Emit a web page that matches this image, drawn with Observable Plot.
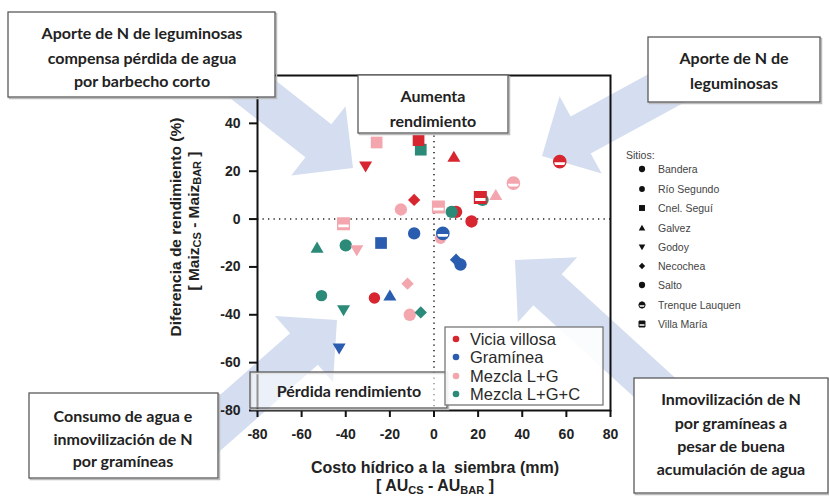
<!DOCTYPE html>
<html><head><meta charset="utf-8">
<script src="https://cdn.jsdelivr.net/npm/d3@7"></script>
<script src="https://cdn.jsdelivr.net/npm/@observablehq/plot@0.6"></script>
<style>body{margin:0;background:#fff} #chart{position:relative;width:829px;height:499px;overflow:hidden}</style>
</head><body><div id="chart"></div>
<script>
// ---- data ----
const treatments = ["Vicia villosa", "Gramínea", "Mezcla L+G", "Mezcla L+G+C"];
const treatmentColors = ["#d7262f", "#2a5db0", "#f3a6ad", "#2b8a78"];
const sites = ["Bandera", "Río Segundo", "Cnel. Seguí", "Galvez", "Godoy", "Necochea", "Salto", "Trenque Lauquen", "Villa María"];
const xTicks = [-80, -60, -40, -20, 0, 20, 40, 60, 80];
const yTicks = [-80, -60, -40, -20, 0, 20, 40];

const viciaSites = ["Cnel. Seguí", "Godoy", "Necochea", "Galvez", "Trenque Lauquen", "Villa María", "Bandera", "Salto", "Río Segundo"];
const viciaX = [-7, -31, -9, 9, 57, 21, 10, 17, -27];
const viciaY = [33, 22, 8, 26, 24, 9, 3, -1, -33];

const gramSites = ["Bandera", "Cnel. Seguí", "Trenque Lauquen", "Necochea", "Salto", "Galvez", "Godoy"];
const gramX = [-9, -24, 4, 10, 12, -20, -43];
const gramY = [-6, -10, -6, -17, -19, -32, -54];

const mezclaSites = ["Cnel. Seguí", "Salto", "Villa María", "Godoy", "Villa María", "Trenque Lauquen", "Galvez", "Necochea", "Bandera", "Río Segundo"];
const mezclaX = [-26, -15, -41, -35, 2, 36, 28, -12, -11, 3];
const mezclaY = [32, 4, -2, -13, 5, 15, 10, -27, -40, -8];

const mezclaCSites = ["Cnel. Seguí", "Bandera", "Galvez", "Salto", "Bandera", "Río Segundo", "Godoy", "Necochea"];
const mezclaCX = [-6, -40, -53, 8, 22, -51, -41, -6];
const mezclaCY = [29, -11, -12, 3, 8, -32, -38, -39];

const boxTexts = [
  ["Aporte de N de leguminosas", "compensa pérdida de agua", "por barbecho corto"],
  ["Aumenta", "rendimiento"],
  ["Aporte de N de", "leguminosas"],
  ["Pérdida rendimiento"],
  ["Consumo de agua e", "inmovilización de N", "por gramíneas"],
  ["Inmovilización de N", "por gramíneas a", "pesar de buena", "acumulación de agua"]
];

// ---- table ----
const rows = [];
function addSeries(t, s, xs, ys) { s.forEach((site, i) => rows.push({treatment: t, site, x: xs[i], y: ys[i]})); }
addSeries("Mezcla L+G+C", mezclaCSites, mezclaCX, mezclaCY);
addSeries("Mezcla L+G", mezclaSites, mezclaX, mezclaY);
addSeries("Gramínea", gramSites, gramX, gramY);
addSeries("Vicia villosa", viciaSites, viciaX, viciaY);

// ---- symbols ----
const R = s => Math.sqrt(s / Math.PI);
const symCircle = {draw(c, s) { const r = R(s) * 0.95; c.moveTo(r, 0); c.arc(0, 0, r, 0, 2 * Math.PI); c.closePath(); }};
const symSmallCircle = {draw(c, s) { const r = R(s) * 0.88; c.moveTo(r, 0); c.arc(0, 0, r, 0, 2 * Math.PI); c.closePath(); }};
const symSquare = {draw(c, s) { const h = R(s) * 0.9; c.moveTo(-h, -h); c.lineTo(h, -h); c.lineTo(h, h); c.lineTo(-h, h); c.closePath(); }};
const symTriUp = {draw(c, s) { const r = R(s); c.moveTo(0, -r * 0.95); c.lineTo(r * 1.0, r * 0.75); c.lineTo(-r * 1.0, r * 0.75); c.closePath(); }};
const symTriDown = {draw(c, s) { const r = R(s); c.moveTo(0, r * 0.95); c.lineTo(r * 1.0, -r * 0.75); c.lineTo(-r * 1.0, -r * 0.75); c.closePath(); }};
const symDiamond = {draw(c, s) { const r = R(s) * 0.95; c.moveTo(0, -r); c.lineTo(r, 0); c.lineTo(0, r); c.lineTo(-r, 0); c.closePath(); }};
const symCircleHalf = {draw(c, s) {
  const r = R(s) * 0.95; const a = Math.asin(0.1), b = Math.asin(0.55);
  c.moveTo(r * Math.cos(Math.PI - a), r * Math.sin(Math.PI - a)); c.arc(0, 0, r, Math.PI - a, 2 * Math.PI + a); c.closePath();
  c.moveTo(r * Math.cos(b), r * Math.sin(b)); c.arc(0, 0, r, b, Math.PI - b); c.closePath();
}};
const symSquareHalf = {draw(c, s) {
  const h = R(s) * 0.9;
  c.moveTo(-h, -h); c.lineTo(h, -h); c.lineTo(h, h * 0.1); c.lineTo(-h, h * 0.1); c.closePath();
  c.moveTo(-h, h * 0.6); c.lineTo(h, h * 0.6); c.lineTo(h, h); c.lineTo(-h, h); c.closePath();
}};
const siteSymbol = {
  "Bandera": symCircle, "Río Segundo": symSmallCircle, "Cnel. Seguí": symSquare, "Galvez": symTriUp,
  "Godoy": symTriDown, "Necochea": symDiamond, "Salto": symCircle, "Trenque Lauquen": symCircle, "Villa María": symSquare
};
const halfSymbol = {"Trenque Lauquen": symCircleHalf, "Villa María": symSquareHalf};

const dotMarks = [];
for (const site of sites) {
  const data = rows.filter(d => d.site === site);
  if (halfSymbol[site]) {
    dotMarks.push(Plot.dot(data, {x: "x", y: "y", r: 6.5, symbol: siteSymbol[site], fill: "white", stroke: "treatment", strokeWidth: 1.3}));
    dotMarks.push(Plot.dot(data, {x: "x", y: "y", r: 6.5, symbol: halfSymbol[site], fill: "treatment", stroke: "none"}));
  } else {
    dotMarks.push(Plot.dot(data, {x: "x", y: "y", r: 6.5, symbol: siteSymbol[site], fill: "treatment", stroke: "none"}));
  }
}

const chart = Plot.plot({
  width: 829, height: 499,
  marginLeft: 257, marginRight: 219, marginTop: 75, marginBottom: 89,
  x: {domain: [-80, 80]},
  y: {domain: [-80, 60]},
  color: {domain: treatments, range: treatmentColors},
  style: {fontFamily: "'Liberation Sans', Arial, sans-serif", background: "transparent", color: "#222"},
  marks: [
    Plot.ruleX([0], {stroke: "#222", strokeWidth: 1.6, strokeDasharray: "1.3,4.2"}),
    Plot.ruleY([0], {stroke: "#222", strokeWidth: 1.6, strokeDasharray: "1.3,4.2"}),
    ...dotMarks,
    Plot.frame({stroke: "#111", strokeWidth: 2}),
    Plot.axisX(xTicks, {tickSize: 7, tickPadding: 12, strokeWidth: 2, stroke: "#111", fontSize: 14, fontWeight: "bold", label: null, tickFormat: d => String(d)}),
    Plot.axisY(yTicks, {tickSize: 8, tickPadding: 9, strokeWidth: 2, stroke: "#111", fontSize: 14, fontWeight: "bold", label: null, tickFormat: d => String(d)})
  ]
});
document.getElementById("chart").appendChild(chart);

// ---- decorations ----
const svg = d3.select(chart);
const arrowColor = "#d4def0";
function arrowPts(tx, ty, px, py, w, hw, hl) {
  const L = Math.hypot(px - tx, py - ty), ux = (px - tx) / L, uy = (py - ty) / L, nx = -uy, ny = ux;
  const bx = px - ux * hl, by = py - uy * hl;
  return [[tx + nx * w / 2, ty + ny * w / 2], [bx + nx * w / 2, by + ny * w / 2], [bx + nx * hw / 2, by + ny * hw / 2], [px, py],
          [bx - nx * hw / 2, by - ny * hw / 2], [bx - nx * w / 2, by - ny * w / 2], [tx - nx * w / 2, ty - ny * w / 2]].map(p => p.join(",")).join(" ");
}
const gArrows = svg.insert("g", ":first-child");
[[190, 40, 353, 168], [700, 70, 542, 156], [195, 445, 337, 320], [745, 470, 515, 260]].forEach(a => {
  gArrows.append("polygon").attr("points", arrowPts(a[0], a[1], a[2], a[3], 42, 88, 44)).attr("fill", arrowColor);
});

// text boxes
const boxFont = "Lato, 'Open Sans', sans-serif";
const boxes = [
  {x: 8, y: 12, w: 267, h: 85, cx: 142, ys: [32, 57, 80], op: 1},
  {x: 358, y: 75, w: 150, h: 58, cx: 433, ys: [95, 120], op: 1},
  {x: 648, y: 37, w: 172, h: 65, cx: 734, ys: [57, 82], op: 1},
  {x: 250, y: 372, w: 197, h: 36, cx: 349, ys: [390], op: 0.55},
  {x: 29, y: 393, w: 189, h: 85, cx: 123, ys: [415, 438, 460], op: 1},
  {x: 634, y: 378, w: 194, h: 115, cx: 731, ys: [398, 422, 445, 468], op: 1}
];
const gBoxes = svg.append("g");
boxes.forEach((b, i) => {
  gBoxes.append("rect").attr("x", b.x + 1.5).attr("y", b.y + 1.5).attr("width", b.w).attr("height", b.h).attr("fill", "none").attr("stroke", "#bbb").attr("stroke-width", 1.5);
  gBoxes.append("rect").attr("x", b.x).attr("y", b.y).attr("width", b.w).attr("height", b.h)
    .attr("fill", "white").attr("fill-opacity", b.op).attr("stroke", "#5a5a5a").attr("stroke-width", 1.3);
  boxTexts[i].forEach((t, j) => {
    gBoxes.append("text").attr("x", b.cx).attr("y", b.ys[j]).attr("text-anchor", "middle").attr("dominant-baseline", "central")
      .attr("font-family", boxFont).attr("font-weight", "bold").attr("font-size", 16).attr("fill", "#222").text(t);
  });
});

// color legend
const gL = svg.append("g");
gL.append("rect").attr("x", 445).attr("y", 327).attr("width", 158).attr("height", 78).attr("fill", "white").attr("fill-opacity", 0.9).attr("stroke", "#777").attr("stroke-width", 1.3);
const legYs = [339, 357, 376, 394];
treatments.forEach((t, i) => {
  gL.append("circle").attr("cx", 456).attr("cy", legYs[i]).attr("r", 3.3).attr("fill", treatmentColors[i]);
  gL.append("text").attr("x", 470).attr("y", legYs[i]).attr("text-anchor", "start").attr("dominant-baseline", "central").attr("font-family", "'Liberation Sans', Arial, sans-serif")
    .attr("font-size", 16.5).attr("fill", "#2a2a2a").text(t);
});

// sitios legend
const gS = svg.append("g").attr("font-family", "'Liberation Sans', Arial, sans-serif").attr("font-size", 10.5).attr("fill", "#444").attr("text-anchor", "start");
gS.append("text").attr("x", 626).attr("y", 155).attr("dominant-baseline", "central").text("Sitios:");
const siteYs = [169, 189, 208, 228, 247, 266, 285, 305, 324];
sites.forEach((s, i) => {
  const size = Math.PI * 3.3 * 3.3;
  if (halfSymbol[s]) {
    gS.append("path").attr("transform", `translate(642,${siteYs[i]})`).attr("d", d3.symbol(siteSymbol[s], size)()).attr("fill", "white").attr("stroke", "#111").attr("stroke-width", 1);
    gS.append("path").attr("transform", `translate(642,${siteYs[i]})`).attr("d", d3.symbol(halfSymbol[s], size)()).attr("fill", "#111");
  } else {
    gS.append("path").attr("transform", `translate(642,${siteYs[i]})`).attr("d", d3.symbol(siteSymbol[s], size)()).attr("fill", "#111");
  }
  gS.append("text").attr("x", 658).attr("y", siteYs[i]).attr("dominant-baseline", "central").text(s);
});

// axis titles
const gT = svg.append("g").attr("font-family", "'Liberation Sans', Arial, sans-serif").attr("font-weight", "bold").attr("fill", "#222");
gT.append("text").attr("transform", "translate(175,227) rotate(-90)").attr("text-anchor", "middle").attr("dominant-baseline", "central")
  .attr("font-size", 15.5).text("Diferencia de rendimiento (%)");
const yt2 = gT.append("text").attr("transform", "translate(193,221) rotate(-90)").attr("text-anchor", "middle").attr("dominant-baseline", "central").attr("font-size", 15.5);
yt2.append("tspan").text("[ Maiz");
yt2.append("tspan").attr("dy", 4).attr("font-size", 11).text("CS");
yt2.append("tspan").attr("dy", -4).text(" - Maiz");
yt2.append("tspan").attr("dy", 4).attr("font-size", 11).text("BAR");
yt2.append("tspan").attr("dy", -4).text(" ]");
gT.append("text").attr("x", 435).attr("y", 473).attr("text-anchor", "middle").attr("font-size", 16).style("white-space", "pre")
  .text("Costo hídrico a la  siembra (mm)");
const xt2 = gT.append("text").attr("x", 435).attr("y", 491).attr("text-anchor", "middle").attr("font-size", 16);
xt2.append("tspan").text("[ AU");
xt2.append("tspan").attr("dy", 3).attr("font-size", 11).text("CS");
xt2.append("tspan").attr("dy", -3).text(" - AU");
xt2.append("tspan").attr("dy", 3).attr("font-size", 11).text("BAR");
xt2.append("tspan").attr("dy", -3).text(" ]");
</script>
</body></html>
